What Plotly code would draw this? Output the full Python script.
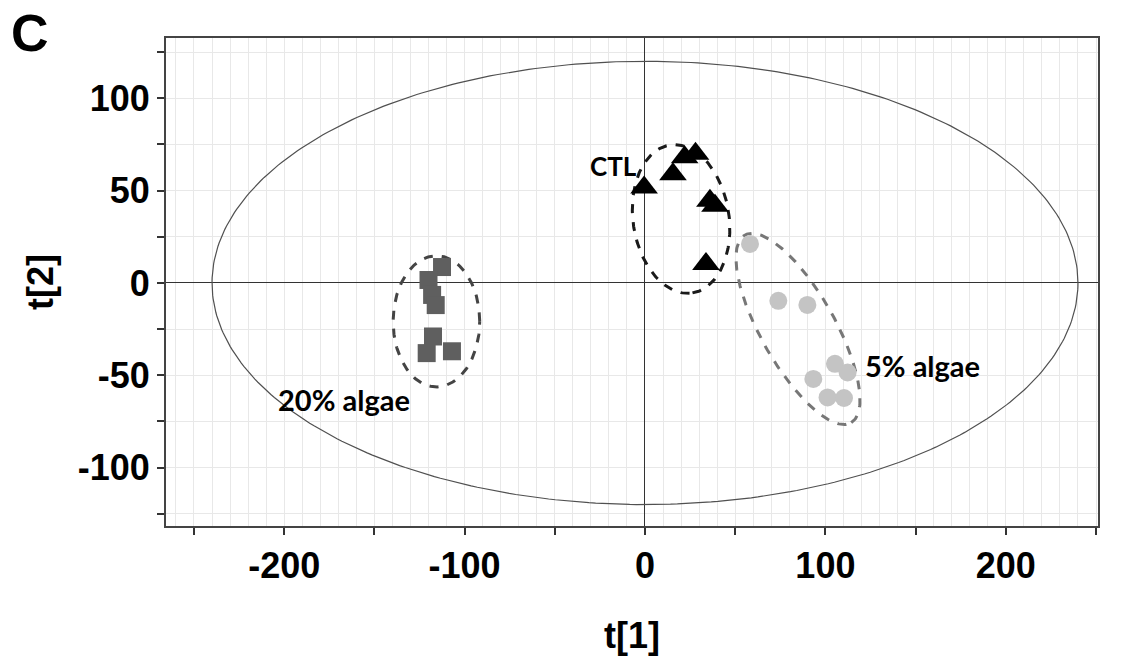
import numpy as np
import plotly.graph_objects as go

# ---------------- data ----------------
ctl_x = [-0.5, 15.5, 22.0, 28.0, 36.0, 38.8, 33.8]
ctl_y = [51.7, 58.9, 68.0, 70.0, 44.5, 41.8, 10.3]

a20_x = [-112.5, -120.0, -118.0, -116.0, -117.5, -121.0, -107.0]
a20_y = [8.6, 1.6, -6.5, -12.0, -29.0, -38.0, -37.0]

a5_x = [58.2, 73.9, 90.0, 105.3, 112.3, 93.3, 101.2, 110.3]
a5_y = [21.1, -9.7, -11.9, -43.8, -48.5, -52.0, -62.0, -62.3]

# ellipse parameters: (center x, center y, semi-axis a, semi-axis b, angle deg)
hotelling = (0.0, 0.0, 240.0, 120.0, 0.0)
ell_ctl = (20.0, 34.6, 40.5, 26.6, -81.0)
ell_20 = (-115.6, -20.8, 24.0, 35.5, 0.0)
ell_5 = (84.8, -24.9, 58.7, 20.4, -59.8)

labels = ["CTL", "20% algae", "5% algae"]
label_pos = [(-17.7, 63.3), (-166.6, -63.0), (154.0, -44.5)]

x_tickvals = list(range(-250, 251, 50))
x_ticktext = [str(v) if v % 100 == 0 and abs(v) < 250 else "" for v in x_tickvals]
y_tickvals = list(range(-125, 126, 25))
y_ticktext = [str(v) if v % 50 == 0 else "" for v in y_tickvals]


def ellipse(p, n=240):
    cx, cy, a, b, ang = p
    t = np.linspace(0, 2 * np.pi, n)
    th = np.deg2rad(ang)
    x = cx + a * np.cos(th) * np.cos(t) - b * np.sin(th) * np.sin(t)
    y = cy + a * np.sin(th) * np.cos(t) + b * np.cos(th) * np.sin(t)
    return x, y


fig = go.Figure()

hx, hy = ellipse(hotelling, 400)
fig.add_trace(go.Scatter(x=hx, y=hy, mode="lines",
                         line=dict(color="#505050", width=1.2), hoverinfo="skip"))

for p, col in [(ell_20, "#444444"), (ell_ctl, "#1a1a1a"), (ell_5, "#777777")]:
    ex, ey = ellipse(p)
    fig.add_trace(go.Scatter(x=ex, y=ey, mode="lines",
                             line=dict(color=col, width=3, dash="dash"), hoverinfo="skip"))

fig.add_trace(go.Scatter(x=a20_x, y=a20_y, mode="markers", name="20% algae",
                         marker=dict(symbol="square", size=18, color="#5f5f5f")))
fig.add_trace(go.Scatter(x=a5_x, y=a5_y, mode="markers", name="5% algae",
                         marker=dict(symbol="circle", size=18, color="#c4c4c4")))
fig.add_trace(go.Scatter(x=ctl_x, y=ctl_y, mode="markers", name="CTL",
                         marker=dict(symbol="triangle-up", size=24, color="#000000")))

for txt, (lx, ly) in zip(labels, label_pos):
    fig.add_annotation(x=lx, y=ly, text=txt, showarrow=False,
                       font=dict(family="Lato", size=29 if txt != "CTL" else 26,
                                 color="#000000", weight="bold"))

# plot-area geometry in pixels
L, T, PW, PH = 166, 38, 932, 488
W, H = 1125, 661

fig.add_annotation(x=(30 - L) / PW, y=1 + (T - 2) / PH, xref="paper", yref="paper",
                   text="C", showarrow=False, xanchor="center", yanchor="top",
                   font=dict(family="Liberation Sans", size=52, color="#000000", weight="bold"))

axis_common = dict(
    showline=True, linecolor="#444444", linewidth=2, mirror=True,
    ticks="outside", ticklen=7, tickwidth=1.5, tickcolor="#333333",
    showgrid=True, gridcolor="#e8e8e8", gridwidth=1,
    zeroline=True, zerolinecolor="#333333", zerolinewidth=1.2,
    tickfont=dict(family="Liberation Sans", size=36, color="#000000", weight="bold"),
    title_font=dict(family="Liberation Sans", size=36, color="#000000", weight="bold"),
    automargin=False,
)

fig.update_xaxes(range=[-265.5, 251.1], tickmode="array", tickvals=x_tickvals,
                 ticktext=x_ticktext, title_text="t[1]", title_standoff=38,
                 minor=dict(dtick=10, tick0=0, showgrid=True, gridcolor="#e8e8e8", ticks=""),
                 **axis_common)
fig.update_yaxes(range=[-131.6, 132.6], tickmode="array", tickvals=y_tickvals,
                 ticktext=y_ticktext, title_text="t[2]", title_standoff=13,
                 **axis_common)

fig.update_layout(
    width=W, height=H,
    margin=dict(l=L, r=W - L - PW, t=T, b=H - T - PH),
    plot_bgcolor="white", paper_bgcolor="white",
    showlegend=False,
)

fig.write_html("out.html", config={"displayModeBar": False},
               post_script="document.body.style.margin='0px';document.body.style.overflow='hidden';")
